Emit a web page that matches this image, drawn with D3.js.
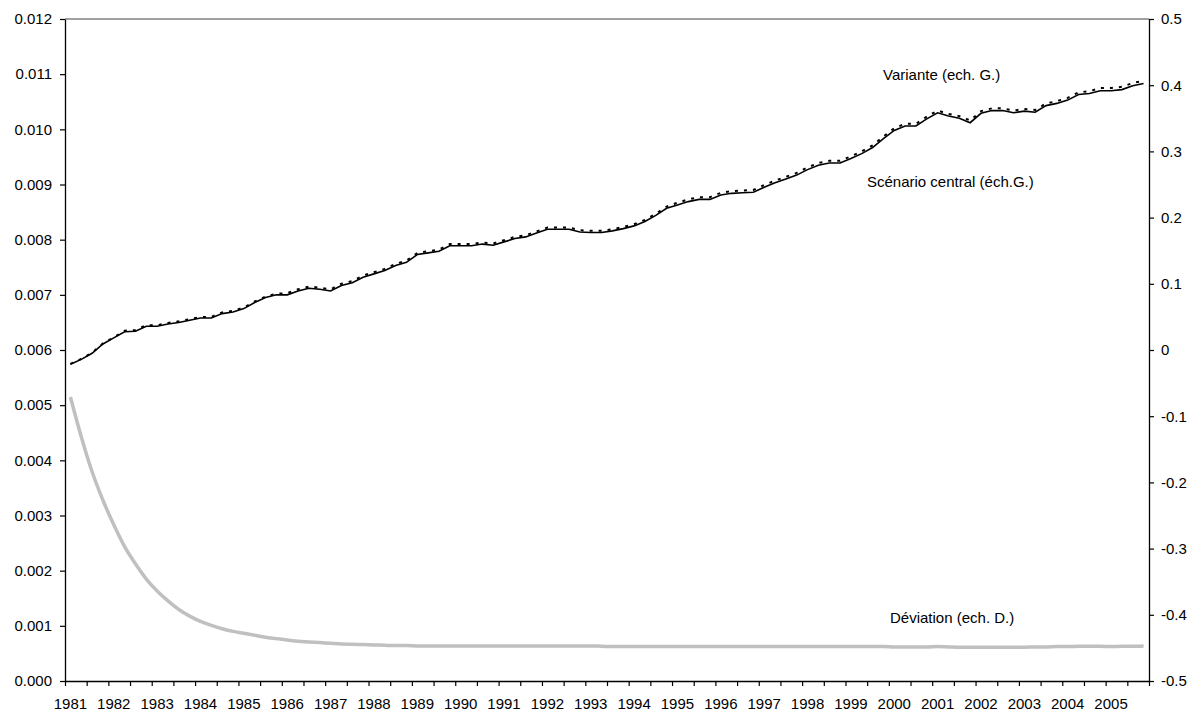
<!DOCTYPE html>
<html>
<head>
<meta charset="utf-8">
<script src="https://cdn.jsdelivr.net/npm/d3@7"></script>
<style>
  body { margin: 0; background: #fff; }
  text { font-family: "Liberation Sans", Arial, sans-serif; }
</style>
</head>
<body>
<script>
// annees affichees sur l'axe, donnees trimestrielles
var years = [1981, 1982, 1983, 1984, 1985, 1986, 1987, 1988, 1989, 1990, 1991, 1992, 1993,
             1994, 1995, 1996, 1997, 1998, 1999, 2000, 2001, 2002, 2003, 2004, 2005];
var quarters = ["T1", "T2", "T3", "T4"];

// scenario central (ech. G.)
var central = [
  0.00574, 0.00583, 0.00594, 0.00611, 0.00622, 0.00633, 0.00634, 0.00643, 0.00643, 0.00647,
  0.00650, 0.00654, 0.00658, 0.00658, 0.00666, 0.00669, 0.00675, 0.00686, 0.00695, 0.00700,
  0.00700, 0.00707, 0.00712, 0.00710, 0.00707, 0.00717, 0.00722, 0.00732, 0.00738, 0.00744,
  0.00753, 0.00759, 0.00773, 0.00776, 0.00779, 0.00789, 0.00789, 0.00789, 0.00792, 0.00790,
  0.00796, 0.00802, 0.00805, 0.00812, 0.00819, 0.00819, 0.00819, 0.00814, 0.00813, 0.00813,
  0.00816, 0.00820, 0.00825, 0.00833, 0.00844, 0.00857, 0.00863, 0.00869, 0.00873, 0.00873,
  0.00881, 0.00884, 0.00885, 0.00886, 0.00895, 0.00903, 0.00910, 0.00917, 0.00927, 0.00935,
  0.00939, 0.00939, 0.00947, 0.00956, 0.00967, 0.00983, 0.00998, 0.01006, 0.01006, 0.01019,
  0.01030, 0.01024, 0.01020, 0.01012, 0.01029, 0.01034, 0.01034, 0.01030, 0.01033, 0.01031,
  0.01043, 0.01047, 0.01053, 0.01063, 0.01065, 0.01070, 0.01070, 0.01072, 0.01079, 0.01083
];

// variante (ech. G.)
var variante = [
  0.00575, 0.00584, 0.00595, 0.00612, 0.00623, 0.00635, 0.00636, 0.00645, 0.00645, 0.00649,
  0.00652, 0.00656, 0.00660, 0.00660, 0.00668, 0.00671, 0.00677, 0.00688, 0.00697, 0.00702,
  0.00703, 0.00710, 0.00715, 0.00713, 0.00710, 0.00720, 0.00725, 0.00735, 0.00741, 0.00747,
  0.00756, 0.00762, 0.00776, 0.00779, 0.00782, 0.00792, 0.00792, 0.00792, 0.00795, 0.00793,
  0.00799, 0.00805, 0.00808, 0.00815, 0.00822, 0.00822, 0.00822, 0.00817, 0.00816, 0.00816,
  0.00819, 0.00823, 0.00828, 0.00836, 0.00847, 0.00860, 0.00867, 0.00873, 0.00877, 0.00877,
  0.00885, 0.00888, 0.00889, 0.00890, 0.00899, 0.00907, 0.00914, 0.00921, 0.00931, 0.00939,
  0.00943, 0.00943, 0.00951, 0.00960, 0.00971, 0.00987, 0.01002, 0.01010, 0.01010, 0.01023,
  0.01034, 0.01028, 0.01024, 0.01016, 0.01033, 0.01038, 0.01038, 0.01034, 0.01037, 0.01035,
  0.01047, 0.01051, 0.01057, 0.01067, 0.01069, 0.01075, 0.01075, 0.01077, 0.01084, 0.01088
];

// deviation (ech. D.)
var deviation = [
  -0.071, -0.131, -0.184, -0.227, -0.264, -0.297, -0.323, -0.346, -0.364, -0.379,
  -0.392, -0.402, -0.410, -0.416, -0.421, -0.425, -0.428, -0.431, -0.434, -0.436,
  -0.438, -0.440, -0.441, -0.442, -0.443, -0.444, -0.4445, -0.445, -0.4455, -0.446,
  -0.4465, -0.4465, -0.447, -0.447, -0.447, -0.447, -0.447, -0.447, -0.447, -0.447,
  -0.447, -0.447, -0.447, -0.447, -0.447, -0.447, -0.447, -0.447, -0.447, -0.4475,
  -0.448, -0.448, -0.448, -0.448, -0.448, -0.448, -0.448, -0.448, -0.448, -0.448,
  -0.448, -0.448, -0.448, -0.448, -0.448, -0.448, -0.448, -0.448, -0.448, -0.448,
  -0.448, -0.448, -0.448, -0.448, -0.448, -0.448, -0.4485, -0.4485, -0.4485, -0.4485,
  -0.448, -0.4485, -0.449, -0.449, -0.449, -0.449, -0.449, -0.449, -0.449, -0.4485,
  -0.4485, -0.448, -0.448, -0.4475, -0.4475, -0.4475, -0.448, -0.4475, -0.4475, -0.447
];

var leftTicks = [0, 0.001, 0.002, 0.003, 0.004, 0.005, 0.006, 0.007, 0.008, 0.009, 0.010, 0.011, 0.012];
var rightTicks = [-0.5, -0.4, -0.3, -0.2, -0.1, 0, 0.1, 0.2, 0.3, 0.4, 0.5];

var w = 1199;
var h = 713;
var mLeft = 65, mRight = 1149, mTop = 19, mBottom = 681;

var categories = [];
years.forEach(function (y) {
    quarters.forEach(function (q) { categories.push(y + q); });
});

var svg = d3.select("body")
    .append("svg")
    .attr("width", w)
    .attr("height", h);

var x = d3.scaleBand().domain(categories).range([mLeft, mRight]).padding(0);
var xIdx = d3.scaleLinear().domain([0, categories.length]).range([mLeft, mRight]);
var yL = d3.scaleLinear().domain([0, 0.012]).range([mBottom, mTop]);
var yR = d3.scaleLinear().domain([-0.5, 0.5]).range([mBottom, mTop]);

function cx(i) { return x(categories[i]) + x.bandwidth() / 2; }

// cadre du haut
svg.append("line")
    .attr("x1", mLeft).attr("x2", mRight)
    .attr("y1", mTop).attr("y2", mTop)
    .attr("stroke", "#808080")
    .attr("stroke-width", 1.3);

// axe gauche
var gL = svg.append("g")
    .attr("transform", "translate(" + mLeft + ",0)")
    .call(d3.axisLeft(yL).tickValues(leftTicks).tickFormat(d3.format(".3f"))
        .tickSize(5).tickSizeOuter(0).tickPadding(8));

// axe droit
var gR = svg.append("g")
    .attr("transform", "translate(" + mRight + ",0)")
    .call(d3.axisRight(yR).tickValues(rightTicks)
        .tickFormat(function (d) { return Math.abs(d) < 1e-9 ? "0" : d.toFixed(1); })
        .tickSize(5).tickSizeOuter(0).tickPadding(7));

// axe du bas : graduations tous les 2 trimestres
var gB = svg.append("g")
    .attr("transform", "translate(0," + mBottom + ")")
    .call(d3.axisBottom(xIdx).tickValues(d3.range(0, categories.length + 1, 2))
        .tickFormat("").tickSize(5).tickSizeOuter(0));

// libelles des annees
var gY = svg.append("g")
    .attr("transform", "translate(0," + mBottom + ")")
    .call(d3.axisBottom(x).tickValues(years.map(function (y) { return y + "T1"; }))
        .tickFormat(function (d) { return d.slice(0, 4); })
        .tickSize(0).tickPadding(17));
gY.select(".domain").remove();

[gL, gR, gB, gY].forEach(function (g) {
    g.selectAll(".domain").attr("stroke", "#000").attr("stroke-width", 1.3);
    g.selectAll(".tick line").attr("stroke", "#000").attr("stroke-width", 1.2);
    g.selectAll("text")
        .attr("font-family", "'Liberation Sans', Arial, sans-serif")
        .attr("font-size", 15)
        .attr("fill", "#000");
});

// courbes
var lineL = d3.line()
    .x(function (d, i) { return cx(i); })
    .y(function (d) { return yL(d); });
var lineR = d3.line()
    .curve(d3.curveMonotoneX)
    .x(function (d, i) { return cx(i); })
    .y(function (d) { return yR(d); });

svg.append("path")
    .datum(deviation)
    .attr("d", lineR)
    .attr("fill", "none")
    .attr("stroke", "#c0c0c0")
    .attr("stroke-width", 3.5)
    .attr("stroke-linejoin", "round");

svg.append("path")
    .datum(central)
    .attr("d", lineL)
    .attr("fill", "none")
    .attr("stroke", "#000")
    .attr("stroke-width", 1.6);

svg.append("path")
    .datum(variante)
    .attr("d", lineL)
    .attr("fill", "none")
    .attr("stroke", "#000")
    .attr("stroke-width", 2)
    .attr("stroke-dasharray", "3,6");

// etiquettes
var labels = [
    { t: "Variante (ech. G.)", x: 883, y: 80 },
    { t: "Scénario central (éch.G.)", x: 867, y: 187 },
    { t: "Déviation (ech. D.)", x: 890, y: 623 }
];
svg.selectAll("text.lab")
    .data(labels)
    .enter()
    .append("text")
    .attr("class", "lab")
    .attr("x", function (d) { return d.x; })
    .attr("y", function (d) { return d.y; })
    .attr("font-size", 15)
    .attr("fill", "#000")
    .text(function (d) { return d.t; });
</script>
</body>
</html>
